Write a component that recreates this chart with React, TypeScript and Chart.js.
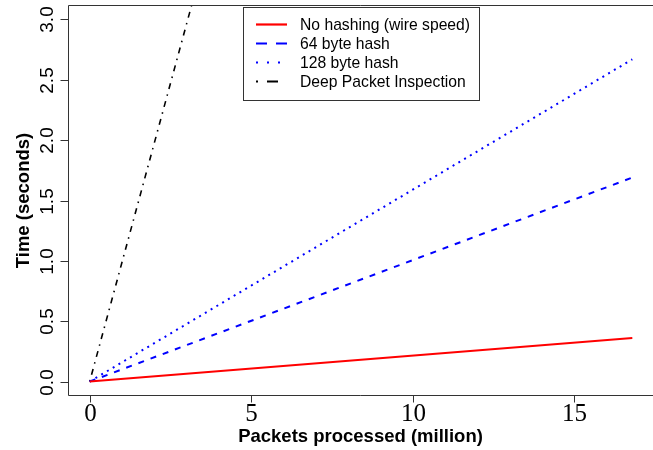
import React, { useEffect, useRef } from "react";
import { Chart, registerables } from "chart.js";

Chart.register(...registerables);

// ---- data ----
const packets = [0, 16.8]; // million packets processed
const noHashing = [0, 0.36];
const hash64 = [0, 1.69];
const hash128 = [0, 2.67];
const deepInspection = [0, 16.6];

const seriesLabels = [
  "No hashing (wire speed)",
  "64 byte hash",
  "128 byte hash",
  "Deep Packet Inspection",
];
const xTicks = [0, 5, 10, 15];
const xTickLabels = ["0", "5", "10", "15"];
const yTicks = [0, 0.5, 1, 1.5, 2, 2.5, 3];
const yTickLabels = ["0.0", "0.5", "1.0", "1.5", "2.0", "2.5", "3.0"];
const xTitle = "Packets processed (million)";
const yTitle = "Time (seconds)";

const seriesValues = [noHashing, hash64, hash128, deepInspection];
const seriesColors = ["#ff0000", "#0000ff", "#0000ff", "#000000"];
const seriesDash: number[][] = [[], [6, 7], [2, 4.7], [1.5, 5.5, 6, 5.5]];
const seriesWidth = [2, 2, 2, 1.6];
const legendDash: number[][] = [[], [11, 9], [2, 9], [2, 9, 11, 9]];

const SANS = '"Liberation Sans", Arial, Helvetica, sans-serif';
const SERIF = '"Liberation Serif", "Times New Roman", serif';

const rPlotPlugin = {
  id: "rplot",
  afterDraw(chart: any) {
    const { ctx, chartArea: a, scales } = chart;
    const xs = scales.x;
    const ys = scales.y;
    const L = Math.round(a.left) + 0.5;
    const T = Math.round(a.top) + 0.5;
    const B = Math.round(a.bottom) - 0.5;
    ctx.save();
    ctx.strokeStyle = "#333";
    ctx.lineWidth = 1;
    ctx.setLineDash([]);
    // box (left, top, bottom)
    ctx.beginPath();
    ctx.moveTo(chart.width, T);
    ctx.lineTo(L, T);
    ctx.lineTo(L, B);
    ctx.lineTo(chart.width, B);
    ctx.stroke();

    // x ticks
    ctx.fillStyle = "#000";
    ctx.font = `25px ${SERIF}`;
    ctx.textAlign = "center";
    ctx.textBaseline = "alphabetic";
    xTicks.forEach((v, i) => {
      const px = Math.round(xs.getPixelForValue(v)) + 0.5;
      ctx.beginPath();
      ctx.moveTo(px, B);
      ctx.lineTo(px, B + 7);
      ctx.stroke();
      ctx.fillText(xTickLabels[i], px, 421);
    });

    // y ticks
    yTicks.forEach((v, i) => {
      const py = Math.round(ys.getPixelForValue(v)) + 0.5;
      ctx.beginPath();
      ctx.moveTo(L - 8, py);
      ctx.lineTo(L, py);
      ctx.stroke();
      ctx.save();
      ctx.translate(53, py);
      ctx.rotate(-Math.PI / 2);
      ctx.font = `19px ${SANS}`;
      ctx.textAlign = "center";
      ctx.textBaseline = "alphabetic";
      ctx.fillText(yTickLabels[i], 0, 0);
      ctx.restore();
    });

    // axis titles
    ctx.font = `bold 18.5px ${SANS}`;
    ctx.textAlign = "center";
    ctx.fillText(xTitle, (a.left + chart.width) / 2, 442);
    ctx.save();
    ctx.translate(29, (a.top + a.bottom) / 2);
    ctx.rotate(-Math.PI / 2);
    ctx.fillText(yTitle, 0, 0);
    ctx.restore();

    // legend
    const lx = 243.5, ly = 7.5, lw = 236, lh = 93;
    ctx.fillStyle = "#fff";
    ctx.fillRect(lx, ly, lw, lh);
    ctx.strokeStyle = "#333";
    ctx.lineWidth = 1;
    ctx.strokeRect(lx, ly, lw, lh);
    const rows = [24.5, 43.5, 62.5, 81.5];
    ctx.font = `15.7px ${SANS}`;
    ctx.textAlign = "left";
    ctx.textBaseline = "middle";
    chart.data.datasets.forEach((ds: any, i: number) => {
      ctx.strokeStyle = ds.borderColor;
      ctx.lineWidth = 2.2;
      ctx.setLineDash(legendDash[i]);
      ctx.beginPath();
      ctx.moveTo(256, rows[i]);
      ctx.lineTo(287, rows[i]);
      ctx.stroke();
      ctx.setLineDash([]);
      ctx.fillStyle = "#000";
      ctx.fillText(ds.label, 300, rows[i] + 1);
    });
    ctx.restore();
  },
};

export default function App() {
  const ref = useRef<HTMLCanvasElement | null>(null);
  useEffect(() => {
    if (!ref.current) return;
    const chart = new Chart(ref.current, {
      type: "line",
      data: {
        datasets: seriesValues.map((vals, i) => ({
          label: seriesLabels[i],
          data: packets.map((p, j) => ({ x: p, y: vals[j] })),
          borderColor: seriesColors[i],
          backgroundColor: seriesColors[i],
          borderWidth: seriesWidth[i],
          borderDash: seriesDash[i],
          pointRadius: 0,
          fill: false,
          tension: 0,
        })),
      },
      options: {
        responsive: false,
        animation: false,
        devicePixelRatio: 1,
        layout: { padding: { left: 68, top: 5, right: 0, bottom: 54 } },
        plugins: { legend: { display: false }, tooltip: { enabled: false } },
        scales: {
          x: { type: "linear", min: -0.672, max: 17.44, display: false },
          y: { type: "linear", min: -0.12, max: 3.12, display: false },
        },
      },
      plugins: [rPlotPlugin],
    });
    return () => chart.destroy();
  }, []);
  return (
    <div style={{ position: "fixed", left: 0, top: 0, width: 653, height: 450, background: "#fff" }}>
      <canvas ref={ref} width={653} height={450} style={{ width: 653, height: 450 }} />
    </div>
  );
}
